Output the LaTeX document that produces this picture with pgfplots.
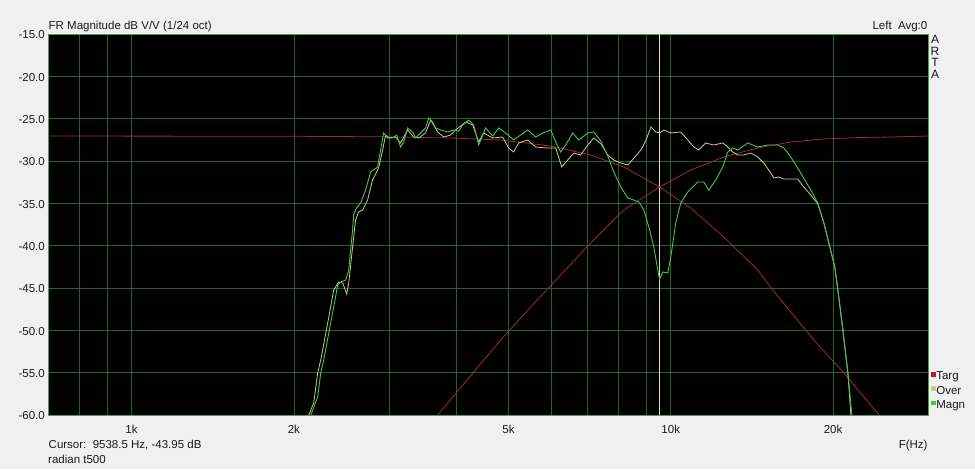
\documentclass[border=0pt]{standalone}
\usepackage{fontspec}
\setmainfont{Liberation Sans}
\usepackage{pgfplots}
\pgfplotsset{compat=1.18}

\definecolor{bggray}{HTML}{F0F0F0}
\definecolor{gridgreen}{HTML}{22642A}
\definecolor{framegreen}{HTML}{4E9E4E}
\definecolor{magn}{HTML}{46C846}
\definecolor{over}{HTML}{CFCB86}
\definecolor{targ}{HTML}{A02C2C}
\definecolor{cursorc}{HTML}{E4E4AE}
\definecolor{txt}{HTML}{1A1A1A}

\begin{document}
\begin{tikzpicture}[x=1pt,y=1pt]
\path[use as bounding box, fill=bggray] (0,0) rectangle (975,469);
\begin{axis}[
  at={(48pt,54pt)}, anchor=south west,
  scale only axis, width=880pt, height=381pt,
  xmode=log, xmin=700, xmax=30000,
  ymin=-60, ymax=-15,
  axis background/.style={fill=black},
  axis line style={draw=framegreen, line width=0.8pt},
  xtick={800,900,1000,2000,3000,4000,5000,6000,7000,8000,9000,10000,20000},
  xticklabels={,,1k,2k,,,5k,,,,,10k,20k},
  minor xtick={},
  ytick={-60,-55,-50,-45,-40,-35,-30,-25,-20,-15},
  yticklabels={-60.0,-55.0,-50.0,-45.0,-40.0,-35.0,-30.0,-25.0,-20.0,-15.0},
  major tick length=0pt, minor tick length=0pt,
  grid=major,
  major grid style={draw=gridgreen, line width=0.6pt},
  tick label style={font=\fontsize{11.5}{13}\selectfont, text=txt},
  xticklabel style={anchor=north, inner sep=0pt, yshift=-10pt},
  yticklabel style={anchor=east, inner sep=0pt, xshift=-3pt, yshift=-1pt},
  legend style={at={(axis description cs:1,0)}, anchor=south west,
    xshift=3pt, yshift=3.5pt, draw=none, fill=none, inner sep=0pt,
    row sep=2.8pt, /tikz/column sep=0.8pt,
    nodes={inner sep=0pt, text height=8.6pt, text depth=2.9pt,
      font=\fontsize{11.5}{13}\selectfont, text=txt}},
  legend cell align=left,
  legend image code/.code={\fill[#1] (0pt,1pt) rectangle (3.4pt,4.4pt);},
]
% cursor
\addplot[cursorc, line width=0.8pt, forget plot] coordinates {(9538.5,-60) (9538.5,-15)};

% target, low-pass part
\addplot[targ, line width=0.8pt, legend image post style={fill=targ!70!red}] coordinates {
(700,-27.05) (2000,-27.08) (3000,-27.15) (4000,-27.30) (4836,-27.52)
(5990,-28.23) (7105,-29.29) (8183,-30.71) (9538,-33.07) (10892,-35.55)
(12540,-38.98) (14500,-42.87) (15462,-45.24) (18419,-51.14) (20945,-55.04)
(24325,-60.00)
};
\addlegendentry{Targ}
% target, high-pass part
\addplot[targ, line width=0.8pt, forget plot] coordinates {
(3696,-60.00) (4836,-51.14) (5500,-47.24) (6251,-43.46) (7105,-39.69)
(8183,-35.79) (9538,-33.07) (10892,-31.06) (12540,-29.53) (14500,-28.46)
(16699,-27.76) (19230,-27.40) (22525,-27.22) (25605,-27.17) (30000,-27.05)
};

% overall
\addplot[over, line width=0.8pt, legend image post style={fill=over!85!orange}] coordinates {
(2131,-60.00) (2177,-58.58) (2214,-55.04) (2243,-53.50) (2311,-49.13)
(2371,-45.24) (2422,-44.29) (2464,-44.41) (2506,-45.71) (2528,-44.41)
(2570,-40.16) (2603,-36.97) (2637,-36.02) (2682,-35.79) (2740,-34.61)
(2799,-32.24) (2872,-30.83) (2922,-28.70) (2959,-26.93) (3000,-27.28)
(3088,-27.17) (3155,-27.87) (3251,-26.34) (3335,-27.17) (3407,-27.28)
(3511,-26.69) (3587,-25.16) (3696,-26.57) (3792,-27.17) (3907,-26.93)
(3991,-26.34) (4166,-25.39) (4292,-25.75) (4404,-27.76) (4497,-26.69)
(4674,-27.28) (4878,-27.17) (5004,-28.46) (5112,-28.94) (5223,-27.87)
(5429,-27.52) (5618,-28.35) (5863,-28.46) (6119,-28.46) (6278,-30.71)
(6441,-29.88) (6608,-29.06) (6808,-29.29) (7015,-28.11) (7197,-27.28)
(7418,-27.95) (7643,-29.29) (7841,-29.88) (8079,-30.24) (8327,-30.47)
(8543,-29.65) (8802,-28.70) (9000,-27.52) (9186,-25.98) (9379,-26.57)
(9538,-26.69) (9705,-26.34) (10000,-26.69) (10437,-26.57) (10753,-27.52)
(11033,-28.35) (11270,-28.70) (11611,-27.87) (12015,-28.11) (12486,-27.87)
(12756,-28.35) (13030,-28.94) (13311,-29.29) (13657,-29.29) (14072,-29.06)
(14500,-29.53) (14880,-30.24) (15331,-31.42) (15529,-32.01) (15864,-31.89)
(16206,-32.13) (16699,-32.13) (17203,-32.13) (17649,-33.07) (18185,-34.02)
(18742,-35.08) (19230,-37.32) (19644,-39.69) (20146,-42.52) (20414,-45.24)
(20856,-49.96) (21306,-55.04) (21580,-60.00)
};
\addlegendentry{Over}

% measured magnitude
\addplot[magn, line width=0.9pt] coordinates {
(2150,-60.00) (2214,-57.87) (2243,-55.04) (2272,-53.50) (2340,-49.13)
(2390,-46.06) (2411,-44.65) (2443,-44.29) (2495,-44.06) (2528,-42.87)
(2548,-40.51) (2570,-38.15) (2581,-36.38) (2614,-35.55) (2660,-34.96)
(2717,-33.43) (2776,-31.30) (2860,-30.71) (2897,-28.70) (2934,-26.69)
(2985,-27.28) (3049,-27.28) (3102,-26.93) (3155,-28.35) (3196,-27.76)
(3251,-26.10) (3321,-26.57) (3364,-27.28) (3437,-26.69) (3511,-26.10)
(3557,-24.92) (3618,-25.39) (3665,-26.10) (3744,-26.34) (3857,-26.57)
(3958,-26.34) (4043,-26.46) (4113,-25.75) (4220,-25.16) (4310,-25.75)
(4404,-28.11) (4536,-26.10) (4674,-27.05) (4795,-26.10) (4940,-26.69)
(5112,-27.52) (5268,-26.93) (5429,-26.34) (5618,-27.17) (5788,-26.69)
(5990,-26.34) (6119,-27.76) (6251,-28.94) (6386,-28.11) (6580,-26.69)
(6750,-27.52) (7015,-26.69) (7197,-26.57) (7418,-27.64) (7643,-29.41)
(7841,-31.30) (8079,-33.07) (8327,-34.37) (8543,-34.61) (8727,-34.84)
(8915,-35.79) (9108,-37.80) (9300,-40.16) (9500,-43.50) (9538,-43.95)
(9664,-43.11) (9873,-43.23) (10000,-41.34) (10216,-37.32) (10437,-34.96)
(10753,-33.66) (11222,-32.48) (11513,-32.48) (11761,-33.43) (12119,-32.24)
(12486,-30.71) (12756,-28.94) (13030,-28.46) (13311,-28.70) (13892,-27.87)
(14500,-28.35) (15136,-28.11) (15797,-28.11) (16206,-28.46) (16699,-29.53)
(17424,-31.42) (18185,-33.43) (18742,-34.96) (19230,-37.32) (19644,-39.69)
(20146,-42.52) (20414,-45.24) (20856,-49.96) (21306,-55.04) (21672,-60.00)
};
\addlegendentry{Magn}
\end{axis}

\begin{scope}[every node/.style={inner sep=0pt, text=txt, font=\fontsize{11.5}{13}\selectfont}]
\node[anchor=base west] at (48.5,439) {FR Magnitude dB V/V (1/24 oct)};
\node[anchor=base east] at (927.5,439) {Left\ \ Avg:0};
\node[anchor=north, align=center, font=\fontsize{12}{11.4}\selectfont] at (935,433.5) {A\\R\\T\\A};
\node[anchor=base west] at (48.5,20.7) {Cursor:\ \ 9538.5 Hz, -43.95 dB};
\node[anchor=base west] at (48,5.7) {radian t500};
\node[anchor=base east] at (927.7,20.7) {F(Hz)};
\end{scope}
\end{tikzpicture}
\end{document}
